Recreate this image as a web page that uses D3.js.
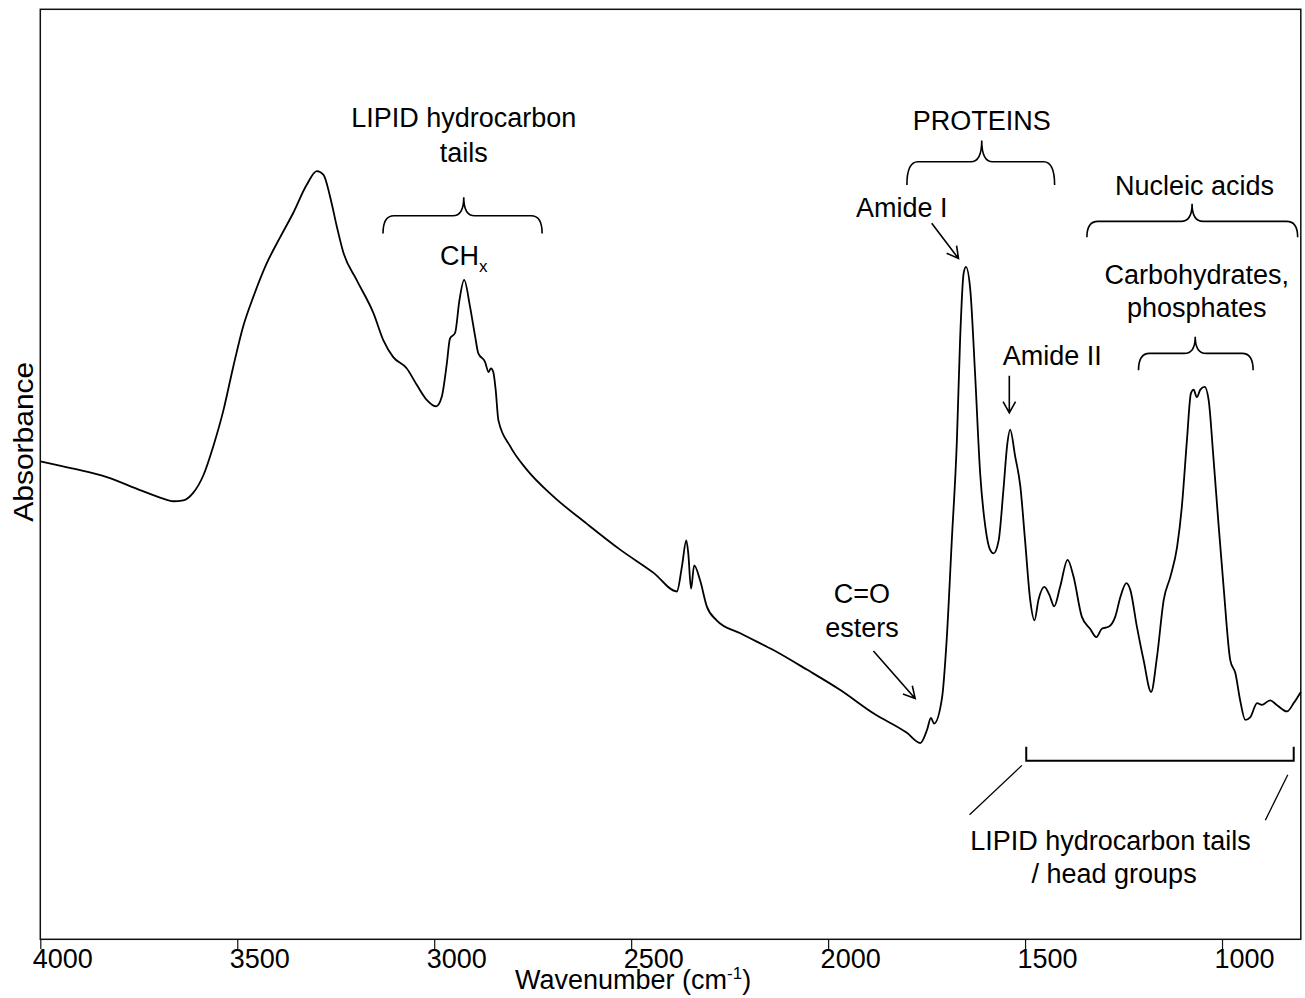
<!DOCTYPE html>
<html>
<head>
<meta charset="utf-8">
<script src="https://cdn.jsdelivr.net/npm/d3@7/dist/d3.min.js"></script>
<style>
  html, body { margin: 0; padding: 0; background: #fff; }
  svg { display: block; font-family: "Liberation Sans", Arial, Helvetica, sans-serif; }
</style>
</head>
<body>
<script>
// ---- data ----
const wavenumber = [
  4000,3916,3831,3747,3696,3662,3637,3612,3586,3561,
  3535,3510,3485,3459,3425,3391,3358,3324,3298,3281,
  3264,3247,3231,3197,3154,3129,3104,3070,3044,3019,
  2995,2981,2968,2960,2947,2936,2924,2909,2896,2888,
  2871,2862,2856,2850,2844,2837,2807,2765,2697,2613,
  2528,2443,2384,2371,2360,2355,2348,2340,2325,2308,
  2283,2223,2139,2054,1969,1885,1800,1766,1749,1739,
  1731,1711,1699,1686,1673,1665,1656,1650,1639,1627,
  1614,1601,1589,1580,1567,1555,1545,1538,1525,1512,
  1500,1487,1476,1466,1451,1438,1426,1411,1392,1377,
  1356,1335,1319,1305,1288,1271,1258,1243,1233,1216,
  1199,1180,1165,1148,1131,1114,1102,1089,1079,1072,
  1064,1055,1044,1034,1022,1009,996,979,966,954,
  941,928,911,899,878,861,835,818,800
];
const absorbance = [
  .514,.506,.497,.483,.475,.471,.472,.480,.499,.530,
  .569,.616,.659,.691,.727,.755,.781,.811,.826,.822,
  .798,.766,.739,.709,.673,.644,.626,.614,.596,.580,
  .573,.583,.619,.646,.652,.687,.709,.680,.648,.630,
  .621,.610,.614,.610,.591,.558,.530,.505,.476,.447,
  .419,.394,.374,.401,.429,.415,.377,.402,.386,.358,
  .343,.329,.311,.290,.268,.243,.222,.211,.225,.238,
  .232,.259,.322,.429,.537,.644,.716,.723,.698,.609,
  .501,.444,.419,.415,.429,.483,.533,.548,.519,.487,
  .429,.365,.343,.365,.379,.370,.358,.379,.408,.390,
  .347,.334,.325,.334,.336,.347,.368,.383,.376,.336,
  .300,.266,.304,.365,.390,.422,.465,.537,.587,.591,
  .583,.591,.594,.580,.519,.447,.379,.300,.286,.257,
  .236,.239,.254,.252,.257,.252,.245,.254,.266
];
const xTicks = [4000, 3500, 3000, 2500, 2000, 1500, 1000];
const xDomain = [4000, 800];
const yDomain = [0, 1];
const xTitle = "Wavenumber (cm";
const xTitleSup = "-1";
const yTitle = "Absorbance";

// annotation labels (data units: wavenumber, absorbance)
const labels = [
  { text: "LIPID hydrocarbon", wn: 2925, a: 0.873 },
  { text: "tails", wn: 2925, a: 0.836 },
  { text: "PROTEINS", wn: 1610, a: 0.870 },
  { text: "Amide I", wn: 1813, a: 0.777 },
  { text: "Amide II", wn: 1431, a: 0.618 },
  { text: "Nucleic acids", wn: 1070, a: 0.800 },
  { text: "Carbohydrates,", wn: 1064, a: 0.705 },
  { text: "phosphates", wn: 1064, a: 0.669 },
  { text: "C=O", wn: 1914, a: 0.362 },
  { text: "esters", wn: 1914, a: 0.325 },
  { text: "LIPID hydrocarbon tails", wn: 1283, a: 0.096 },
  { text: "/ head groups", wn: 1274, a: 0.061 }
];
const braces = [
  { wn0: 3130, wn1: 2726, wnc: 2925, aEnd: 0.759, aH: 0.778, aTop: 0.798 },
  { wn0: 1800, wn1: 1425, wnc: 1610, aEnd: 0.811, aH: 0.836, aTop: 0.859 },
  { wn0: 1343, wn1: 808,  wnc: 1076, aEnd: 0.755, aH: 0.772, aTop: 0.791 },
  { wn0: 1212, wn1: 921,  wnc: 1068, aEnd: 0.612, aH: 0.630, aTop: 0.648 }
];
const arrows = [
  { wn0: 1737, a0: 0.770, wn1: 1669, a1: 0.732 },
  { wn0: 1540, a0: 0.606, wn1: 1540, a1: 0.566 },
  { wn0: 1885, a0: 0.310, wn1: 1779, a1: 0.259 }
];
const bracket = { wn0: 1497, wn1: 818, aTop: 0.207, aBot: 0.192 };
const leaders = [
  { wn0: 1508, a0: 0.187, wn1: 1641, a1: 0.134 },
  { wn0: 833,  a0: 0.177, wn1: 890,  a1: 0.128 }
];

// ---- layout ----
const W = 1305, H = 998;
const padL = 40.3, padR = 1300.8, padT = 9.3, padB = 939.3;
const FS = 27;

const svg = d3.select("body").append("svg").attr("width", W).attr("height", H);
const x = d3.scaleLinear().domain(xDomain).range([padL, padR]);
const y = d3.scaleLinear().domain(yDomain).range([padB, padT]);

// frame
svg.append("rect")
  .attr("x", padL).attr("y", padT)
  .attr("width", padR - padL).attr("height", padB - padT)
  .attr("fill", "none").attr("stroke", "#111").attr("stroke-width", 1.5);

// x axis
const gx = svg.append("g").attr("transform", `translate(0,${padB})`)
  .call(d3.axisBottom(x).tickValues(xTicks).tickSize(10).tickPadding(0).tickSizeOuter(0)
        .tickFormat(d3.format("d")));
gx.attr("font-family", null).attr("font-size", null);
gx.select(".domain").remove();
gx.selectAll(".tick line").attr("stroke", "#111").attr("stroke-width", 1.2);
gx.selectAll(".tick text").attr("fill", "#000").attr("font-size", FS)
  .attr("text-anchor", "start").attr("x", -8);

// axis titles
const xt = svg.append("text").attr("x", 515).attr("y", 989).attr("font-size", FS).attr("fill", "#000");
xt.append("tspan").text(xTitle);
xt.append("tspan").text(xTitleSup).attr("font-size", 17).attr("dy", -10);
xt.append("tspan").text(")").attr("font-size", FS).attr("dy", 10);

svg.append("text")
  .attr("transform", `translate(33,${y(0.535)}) rotate(-90)`)
  .attr("text-anchor", "middle").attr("font-size", 28).attr("fill", "#000")
  .attr("textLength", 160).attr("lengthAdjust", "spacingAndGlyphs")
  .text(yTitle);

// spectrum
const pts = wavenumber.map((w, i) => [w, absorbance[i]]);
const line = d3.line().x(d => x(d[0])).y(d => y(d[1])).curve(d3.curveMonotoneX);
svg.append("path").datum(pts)
  .attr("d", line)
  .attr("fill", "none").attr("stroke", "#000").attr("stroke-width", 1.8)
  .attr("stroke-linejoin", "round");

// labels
svg.selectAll("text.lab").data(labels).enter().append("text")
  .attr("class", "lab")
  .attr("x", d => x(d.wn)).attr("y", d => y(d.a))
  .attr("text-anchor", "middle").attr("font-size", FS).attr("fill", "#000")
  .text(d => d.text);

// CHx with subscript
const ch = svg.append("text").attr("x", x(2925)).attr("y", y(0.725))
  .attr("text-anchor", "middle").attr("font-size", FS).attr("fill", "#000");
ch.append("tspan").text("CH");
ch.append("tspan").text("x").attr("font-size", 17).attr("dy", 7);

// braces
const rr = 11;
function bracePath(b) {
  const x0 = x(b.wn0), x1 = x(b.wn1), xc = x(b.wnc);
  const ye = y(b.aEnd), yh = y(b.aH), yt = y(b.aTop);
  return `M${x0},${ye} Q${x0},${yh} ${x0 + rr},${yh} L${xc - rr},${yh} Q${xc},${yh} ${xc},${yt}` +
         ` Q${xc},${yh} ${xc + rr},${yh} L${x1 - rr},${yh} Q${x1},${yh} ${x1},${ye}`;
}
svg.selectAll("path.brace").data(braces).enter().append("path")
  .attr("class", "brace").attr("d", bracePath)
  .attr("fill", "none").attr("stroke", "#000").attr("stroke-width", 1.6);

// arrows
function arrowPath(a) {
  const X0 = x(a.wn0), Y0 = y(a.a0), X1 = x(a.wn1), Y1 = y(a.a1);
  const ang = Math.atan2(Y1 - Y0, X1 - X0), L = 13, s = 0.5;
  const p1 = [X1 - L * Math.cos(ang - s), Y1 - L * Math.sin(ang - s)];
  const p2 = [X1 - L * Math.cos(ang + s), Y1 - L * Math.sin(ang + s)];
  return `M${X0},${Y0} L${X1},${Y1} M${p1[0]},${p1[1]} L${X1},${Y1} L${p2[0]},${p2[1]}`;
}
svg.selectAll("path.arrow").data(arrows).enter().append("path")
  .attr("class", "arrow").attr("d", arrowPath)
  .attr("fill", "none").attr("stroke", "#000").attr("stroke-width", 1.6);

// bottom bracket and leader lines
svg.append("path")
  .attr("d", `M${x(bracket.wn0)},${y(bracket.aTop)} L${x(bracket.wn0)},${y(bracket.aBot)} L${x(bracket.wn1)},${y(bracket.aBot)} L${x(bracket.wn1)},${y(bracket.aTop)}`)
  .attr("fill", "none").attr("stroke", "#000").attr("stroke-width", 2);
svg.selectAll("line.leader").data(leaders).enter().append("line")
  .attr("class", "leader")
  .attr("x1", d => x(d.wn0)).attr("y1", d => y(d.a0))
  .attr("x2", d => x(d.wn1)).attr("y2", d => y(d.a1))
  .attr("stroke", "#000").attr("stroke-width", 1.3);
</script>
</body>
</html>
